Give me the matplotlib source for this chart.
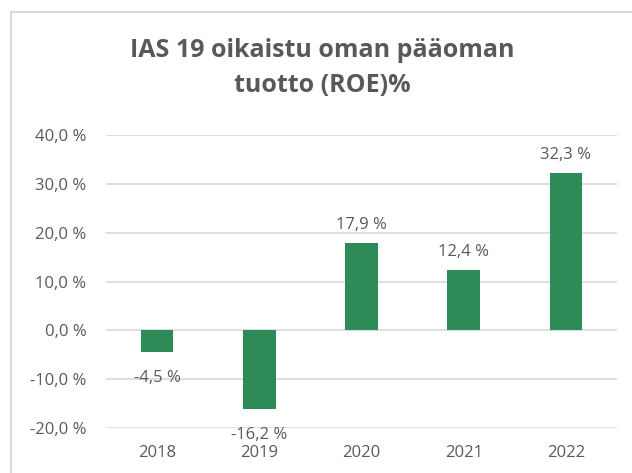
import matplotlib.pyplot as plt
from matplotlib.patches import Rectangle

years = ["2018", "2019", "2020", "2021", "2022"]
roe = [-4.5, -16.2, 17.9, 12.4, 32.3]
yticks = [-20, -10, 0, 10, 20, 30, 40]
title = "IAS 19 oikaistu oman pääoman\ntuotto (ROE)%"

gray = "#595959"
green = "#2e8b57"
plt.rcParams["font.family"] = ["Open Sans", "DejaVu Sans"]


def fmt(v):
    return f"{v:.1f} %".replace(".", ",")


fig = plt.figure(figsize=(6.32, 4.73), dpi=100)
# chart frame, cropped on the right and bottom
fig.patches.append(Rectangle((11 / 632, -0.1), 1.2, 1.1 - 12 / 473, transform=fig.transFigure,
                             fill=False, edgecolor="#d9d9d9", linewidth=1.5))

ax = fig.add_axes([106 / 632, 1 - 428 / 473, 511 / 632, 293 / 473])
x = range(len(years))
ax.bar(x, roe, width=0.32, color=green, zorder=3)
ax.set_xlim(-0.5, len(years) - 0.5)
ax.set_ylim(-20, 40)
ax.set_yticks(yticks)
ax.set_yticklabels([fmt(t) for t in yticks])
ax.set_xticks(list(x))
ax.set_xticklabels(years)
ax.yaxis.grid(True, color="#d9d9d9", linewidth=1.2, zorder=0)
for s in ax.spines.values():
    s.set_visible(False)
ax.tick_params(length=0, colors=gray, labelsize=12)
ax.tick_params(axis="y", pad=14)
ax.tick_params(axis="x", pad=12)

for i, v in enumerate(roe):
    off = 7 if v >= 0 else -13
    ax.annotate(fmt(v), (i, v), xytext=(0, off), textcoords="offset points",
                ha="center", va="bottom" if v >= 0 else "top", color=gray, fontsize=12)

fig.text(0.51, 1 - 68 / 473, title, ha="center", va="center", fontsize=18,
         fontweight="bold", color=gray, linespacing=1.5)

fig.savefig("out.png", dpi=100)
